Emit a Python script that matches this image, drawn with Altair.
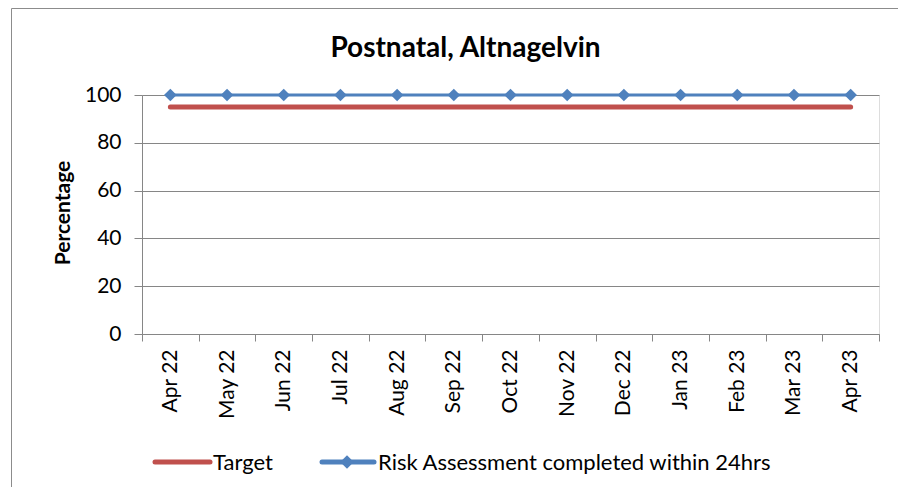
import altair as alt
import pandas as pd

months = ["Apr 22", "May 22", "Jun 22", "Jul 22", "Aug 22", "Sep 22", "Oct 22",
          "Nov 22", "Dec 22", "Jan 23", "Feb 23", "Mar 23", "Apr 23"]
target = [95, 95, 95, 95, 95, 95, 95, 95, 95, 95, 95, 95, 95]
risk = [100, 100, 100, 100, 100, 100, 100, 100, 100, 100, 100, 100, 100]
series_names = ["Target", "Risk Assessment completed within 24hrs"]
series_colors = ["#C0504D", "#4F81BD"]
y_ticks = [0, 20, 40, 60, 80, 100]
chart_title = "Postnatal, Altnagelvin"

FONT = "Lato"
FS = 21
W, H = 737, 239

df_t = pd.DataFrame({"month": months, "value": target, "series": series_names[0]})
df_r = pd.DataFrame({"month": months, "value": risk, "series": series_names[1]})

x_enc = alt.X("month:N", sort=months, bandPosition=0.5,
              scale=alt.Scale(type="band", paddingInner=0, paddingOuter=0),
              axis=alt.Axis(title=None, tickBand="extent", labelAngle=270,
                            labelAlign="right", labelBaseline="middle",
                            tickSize=7, labelPadding=8, labelFontSize=FS,
                            labelFont=FONT, labelColor="#000000",
                            domainColor="#868686", tickColor="#868686",
                            grid=False))
y_enc = alt.Y("value:Q", scale=alt.Scale(domain=[0, 100], nice=False),
              axis=alt.Axis(values=y_ticks, title="Percentage", titleFont=FONT,
                            titleFontSize=FS, titleFontWeight="bold",
                            titleColor="#000000", titleAngle=270,
                            titleX=-79, titleY=H / 2 - 2, titleAlign="center",
                            titleBaseline="middle",
                            labelFont=FONT, labelFontSize=FS, labelColor="#000000",
                            labelPadding=13, tickSize=8, tickColor="#868686",
                            domainColor="#868686", gridColor="#868686",
                            gridWidth=1))

color_scale = alt.Scale(domain=series_names, range=series_colors)

target_line = alt.Chart(df_t).mark_line(strokeWidth=5, strokeCap="round").encode(
    x=x_enc, y=y_enc,
    color=alt.Color("series:N", scale=color_scale, legend=None))

risk_line = alt.Chart(df_r).mark_line(strokeWidth=3).encode(
    x=x_enc, y=y_enc,
    color=alt.Color("series:N", scale=color_scale, legend=None))

risk_pts = alt.Chart(df_r).mark_point(shape="diamond", filled=True, size=160,
                                      opacity=1).encode(
    x=x_enc, y=y_enc,
    color=alt.Color("series:N", scale=color_scale, legend=None))

# title as text (centred over the outer frame)
title_txt = alt.Chart(df_t.head(1)).mark_text(
    align="center", baseline="alphabetic", fontSize=28, fontWeight="bold",
    font=FONT, color="#000000").encode(
    x=alt.value(W / 2 - 45), y=alt.value(-38), text=alt.value(chart_title))

# custom legend (bottom)
LY = 367
LFS = 22
leg_red = alt.Chart(df_t.head(1)).mark_rule(strokeWidth=5, strokeCap="round",
                                            color=series_colors[0]).encode(
    x=alt.value(13), x2=alt.value(68), y=alt.value(LY), y2=alt.value(LY))
leg_red_txt = alt.Chart(df_t.head(1)).mark_text(
    align="left", baseline="middle", fontSize=LFS, font=FONT, color="#000000").encode(
    x=alt.value(71), y=alt.value(LY + 1), text=alt.value(series_names[0]))
leg_blue = alt.Chart(df_r.head(1)).mark_rule(strokeWidth=5, strokeCap="round",
                                             color=series_colors[1]).encode(
    x=alt.value(180), x2=alt.value(232), y=alt.value(LY), y2=alt.value(LY))
leg_blue_pt = alt.Chart(df_r.head(1)).mark_point(
    shape="diamond", filled=True, size=180, opacity=1, color=series_colors[1]).encode(
    x=alt.value(205), y=alt.value(LY))
leg_blue_txt = alt.Chart(df_r.head(1)).mark_text(
    align="left", baseline="middle", fontSize=LFS, font=FONT, color="#000000").encode(
    x=alt.value(236), y=alt.value(LY + 1), text=alt.value(series_names[1]))

# outer frame: left and top edges (the rest lies outside the picture)
frame_left = alt.Chart(df_t.head(1)).mark_rule(color="#8C8C8C", strokeWidth=1).encode(
    x=alt.value(-130.5), y=alt.value(-86.5), y2=alt.value(H + 300))
frame_top = alt.Chart(df_t.head(1)).mark_rule(color="#8C8C8C", strokeWidth=1).encode(
    x=alt.value(-130.5), x2=alt.value(W + 300), y=alt.value(-86.5))

chart = alt.layer(
    frame_left, frame_top, target_line, risk_line, risk_pts, title_txt,
    leg_red, leg_red_txt, leg_blue, leg_blue_pt, leg_blue_txt
).properties(
    width=W, height=H,
    autosize=alt.AutoSizeParams(type="none"),
    padding={"left": 134, "top": 87, "right": 19, "bottom": 153},
).configure_view(stroke=None).configure(background="white")

chart.save("out.html", embed_options={"renderer": "svg", "actions": False})
